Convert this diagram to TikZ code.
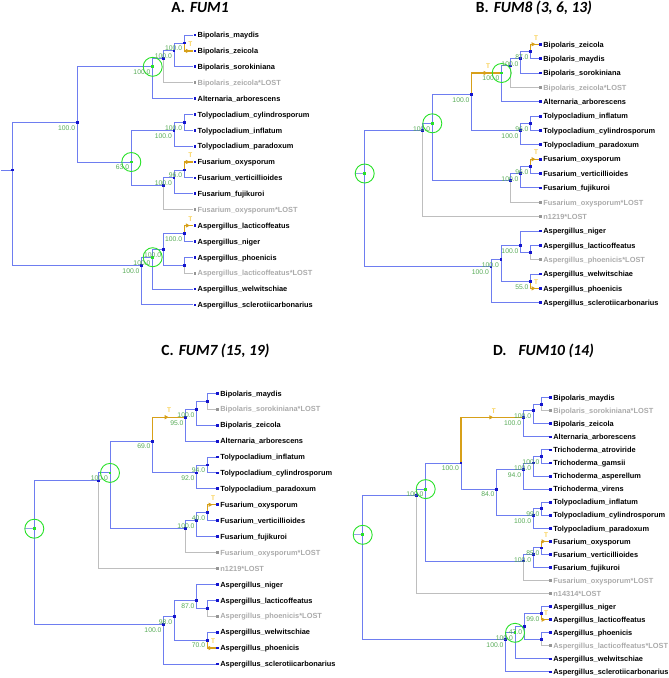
\documentclass[tikz,border=0pt]{standalone}
\usepackage{fontspec}
\setmainfont{Liberation Sans}
\newfontfamily\titlefont{Carlito}
\usepackage{xcolor}
\usepackage{tikz}
\usetikzlibrary{arrows.meta, decorations.markings, positioning, calc}

\definecolor{brblue}{RGB}{110,125,240}
\definecolor{stubblue}{RGB}{150,160,230}
\definecolor{lostgray}{RGB}{190,190,190}
\definecolor{dotk}{RGB}{20,20,205}
\definecolor{dotg}{RGB}{150,150,150}
\definecolor{txtk}{RGB}{0,0,0}
\definecolor{txtg}{RGB}{170,170,170}
\definecolor{trorange}{RGB}{215,160,25}
\definecolor{tyellow}{RGB}{245,185,0}
\definecolor{bsgreen}{RGB}{85,170,85}
\definecolor{gcirc}{RGB}{40,225,40}

\begin{document}
\begin{tikzpicture}[x=1pt, y=-1pt,
    br/.style={draw=brblue, line width=0.9pt},
    lostbr/.style={draw=lostgray, line width=0.9pt},
    stub/.style={draw=stubblue, line width=0.9pt},
    trans/.style={draw=trorange, line width=1.4pt, postaction={decorate},
      decoration={markings, mark=at position #1 with {\arrow{Triangle[length=4pt,width=4pt]}; \node[tlab] at (0.5pt,6.5pt) {T};}}},
    leaf/.style={fill=#1, inner sep=0pt, minimum size=2.8pt},
    leaftxt/.style={text=#1, font=\fontsize{7.4}{8}\selectfont\bfseries, anchor=base west, inner sep=0pt, xshift=2.5pt, yshift=-2.7pt},
    bs/.style={text=bsgreen, font=\fontsize{6.8}{8}\selectfont, anchor=east, inner sep=0pt, xshift=-2pt, yshift=-5.5pt},
    tlab/.style={text=tyellow, font=\fontsize{6.5}{7}\selectfont, inner sep=0pt},
    dup/.style={draw=gcirc, line width=0.9pt},
    ttl/.style={font=\titlefont\fontsize{15.5}{18}\selectfont\bfseries, inner sep=0pt}]
    \useasboundingbox (0,0) rectangle (669,678);

    % ===== A. FUM1 =====
    \node[ttl] (tA) at (200,7.5) {A.\hspace{5pt}\textit{FUM1}};
    \foreach \n/\y/\col/\lab in {
      1/35.0/k/Bipolaris\_maydis,
      2/50.9/k/Bipolaris\_zeicola,
      3/66.8/k/Bipolaris\_sorokiniana,
      4/82.6/g/Bipolaris\_zeicola*LOST,
      5/98.5/k/Alternaria\_arborescens,
      6/114.4/k/Tolypocladium\_cylindrosporum,
      7/130.3/k/Tolypocladium\_inflatum,
      8/146.1/k/Tolypocladium\_paradoxum,
      9/162.0/k/Fusarium\_oxysporum,
      10/177.9/k/Fusarium\_verticillioides,
      11/193.8/k/Fusarium\_fujikuroi,
      12/209.6/g/Fusarium\_oxysporum*LOST,
      13/225.5/k/Aspergillus\_lacticoffeatus,
      14/241.4/k/Aspergillus\_niger,
      15/257.3/k/Aspergillus\_phoenicis,
      16/273.2/g/Aspergillus\_lacticoffeatus*LOST,
      17/289.0/k/Aspergillus\_welwitschiae,
      18/304.9/k/Aspergillus\_sclerotiicarbonarius}{
      \node[leaf=dot\col] (A\n) at (195,\y) {};
      \node[leaftxt=txt\col] (tx-A\n) at (A\n) {\lab};
    }
    % internal nodes
    \coordinate (Aroot) at (12.3,170.0);
    \coordinate (Astub) at (1,170.0);
    \coordinate (Atop) at (77.3,122.3);
    \coordinate (Ab1) at (152.7,66.8);
    \coordinate (Ab2) at (163.3,58.8);
    \coordinate (Ab3) at (174.0,50.9);
    \coordinate (Ab4) at (184.3,43.0);
    \coordinate (A63) at (131.3,162.0);
    \coordinate (At1) at (174.0,130.3);
    \coordinate (At2) at (184.3,122.4);
    \coordinate (Af1) at (163.3,185.8);
    \coordinate (Af2) at (174.0,177.9);
    \coordinate (Af3) at (184.3,170.0);
    \coordinate (Aa0) at (141.7,265.2);
    \coordinate (Aa1) at (152.7,257.2);
    \coordinate (Aa2) at (163.3,249.4);
    \coordinate (Aa3) at (184.3,233.5);
    \coordinate (Aa4) at (184.3,265.3);
    % branches
    \draw[br] (Astub) -- (Aroot);
    \foreach \a/\b in {Aroot/Atop, Aroot/Aa0, Atop/Ab1, Atop/A63, Ab1/Ab2, Ab1/A5,
      Ab2/Ab3, Ab3/Ab4, Ab3/A3, Ab4/A1, A63/At1, A63/Af1, At1/At2, At1/A8,
      At2/A6, At2/A7, Af1/Af2, Af2/Af3, Af2/A11, Af3/A10, Aa0/Aa1, Aa0/A18,
      Aa1/Aa2, Aa1/A17, Aa2/Aa3, Aa2/Aa4, Aa3/A14, Aa4/A15}
      \draw[br] (\a) |- (\b);
    \foreach \a/\b in {Ab2/A4, Af1/A12, Aa4/A16}
      \draw[lostbr] (\a) |- (\b);
    \draw[trans=-3.5pt] (Ab4) |- (A2);
    \draw[trans=-3.5pt] (Af3) |- (A9);
    \draw[trans=-3.5pt] (Aa3) |- (A13);

    % ===== B. FUM8 =====
    \node[ttl] (tB) at (534,7.5) {B.\hspace{5pt}\textit{FUM8 (3, 6, 13)}};
    \foreach \n/\y/\col/\lab in {
      1/44.3/k/Bipolaris\_zeicola,
      2/58.7/k/Bipolaris\_maydis,
      3/73.0/k/Bipolaris\_sorokiniana,
      4/87.4/g/Bipolaris\_zeicola*LOST,
      5/101.7/k/Alternaria\_arborescens,
      6/116.1/k/Tolypocladium\_inflatum,
      7/130.5/k/Tolypocladium\_cylindrosporum,
      8/144.8/k/Tolypocladium\_paradoxum,
      9/159.2/k/Fusarium\_oxysporum,
      10/173.5/k/Fusarium\_verticillioides,
      11/187.9/k/Fusarium\_fujikuroi,
      12/202.3/g/Fusarium\_oxysporum*LOST,
      13/216.6/g/n1219*LOST,
      14/231.0/k/Aspergillus\_niger,
      15/245.3/k/Aspergillus\_lacticoffeatus,
      16/259.7/g/Aspergillus\_phoenicis*LOST,
      17/274.0/k/Aspergillus\_welwitschiae,
      18/288.4/k/Aspergillus\_phoenicis,
      19/302.8/k/Aspergillus\_sclerotiicarbonarius}{
      \node[leaf=dot\col] (B\n) at (540.7,\y) {};
      \node[leaftxt=txt\col] (tx-B\n) at (B\n) {\lab};
    }
    \coordinate (Broot) at (364.7,173.5);
    \coordinate (Bstub) at (355.2,173.5);
    \coordinate (Bb1) at (422.3,130.5);
    \coordinate (Bb2) at (432.3,123.3);
    \coordinate (Bb3) at (471.7,94.6);
    \coordinate (Bb4) at (501.7,73.0);
    \coordinate (Bb5) at (510.7,65.9);
    \coordinate (Bb6) at (520.7,58.7);
    \coordinate (Bb7) at (530.7,51.5);
    \coordinate (Bt1) at (520.7,130.5);
    \coordinate (Bt2) at (530.7,123.3);
    \coordinate (Bf1) at (510.7,180.7);
    \coordinate (Bf2) at (520.7,173.5);
    \coordinate (Bf3) at (530.7,166.4);
    \coordinate (Ba1) at (491.0,266.9);
    \coordinate (Ba2) at (501.0,259.7);
    \coordinate (Ba3) at (520.7,245.3);
    \coordinate (Ba4) at (530.7,281.2);
    \coordinate (Ba5) at (530.7,252.5);
    \draw[stub] (Bstub) -- (Broot);
    \foreach \a/\b in {Broot/Bb1, Broot/Ba1, Bb1/Bb2, Bb2/Bb3, Bb2/Bf1, Bb3/Bt1,
      Bb4/Bb5, Bb4/B5, Bb5/Bb6, Bb6/Bb7, Bb6/B3, Bb7/B2, Bt1/Bt2, Bt1/B8,
      Bt2/B6, Bt2/B7, Bf1/Bf2, Bf2/Bf3, Bf2/B11, Bf3/B10, Ba1/Ba2, Ba1/B19,
      Ba2/Ba3, Ba2/Ba4, Ba3/B14, Ba3/Ba5, Ba5/B15, Ba4/B17}
      \draw[br] (\a) |- (\b);
    \foreach \a/\b in {Bb1/B13, Bb5/B4, Bf1/B12, Ba5/B16}
      \draw[lostbr] (\a) |- (\b);
    \draw[trans=-14pt] (Bb3) |- (Bb4);
    \draw[trans=-3.5pt] (Bb7) |- (B1);
    \draw[trans=-3.5pt] (Bf3) |- (B9);
    \draw[trans=-3.5pt] (Ba4) |- (B18);

    % ===== C. FUM7 =====
    \node[ttl] (tC) at (215.5,351) {C.\hspace{5pt}\textit{FUM7 (15, 19)}};
    \foreach \n/\y/\col/\lab in {
      1/393.3/k/Bipolaris\_maydis,
      2/409.2/g/Bipolaris\_sorokiniana*LOST,
      3/425.1/k/Bipolaris\_zeicola,
      4/441.1/k/Alternaria\_arborescens,
      5/457.0/k/Tolypocladium\_inflatum,
      6/472.9/k/Tolypocladium\_cylindrosporum,
      7/488.8/k/Tolypocladium\_paradoxum,
      8/504.7/k/Fusarium\_oxysporum,
      9/520.7/k/Fusarium\_verticillioides,
      10/536.6/k/Fusarium\_fujikuroi,
      11/552.5/g/Fusarium\_oxysporum*LOST,
      12/568.4/g/n1219*LOST,
      13/584.3/k/Aspergillus\_niger,
      14/600.3/k/Aspergillus\_lacticoffeatus,
      15/616.2/g/Aspergillus\_phoenicis*LOST,
      16/632.1/k/Aspergillus\_welwitschiae,
      17/648.0/k/Aspergillus\_phoenicis,
      18/664.0/k/Aspergillus\_sclerotiicarbonarius}{
      \node[leaf=dot\col] (C\n) at (217.7,\y) {};
      \node[leaftxt=txt\col] (tx-C\n) at (C\n) {\lab};
    }
    \coordinate (Croot) at (34.3,528.7);
    \coordinate (Cstub) at (24.8,528.7);
    \coordinate (Cb1) at (98.7,480.9);
    \coordinate (Cb2) at (110.0,472.9);
    \coordinate (Cb3) at (152.7,441.1);
    \coordinate (Cb4) at (185.7,417.2);
    \coordinate (Cb5) at (196.7,409.2);
    \coordinate (Cb6) at (207.3,401.3);
    \coordinate (Ct1) at (196.7,472.9);
    \coordinate (Ct2) at (207.3,465.0);
    \coordinate (Cf1) at (185.7,528.6);
    \coordinate (Cf2) at (196.7,520.7);
    \coordinate (Cf3) at (207.3,512.7);
    \coordinate (Ca1) at (163.7,624.2);
    \coordinate (Ca2) at (174.3,616.2);
    \coordinate (Ca3) at (196.7,600.3);
    \coordinate (Ca4) at (207.3,640.1);
    \coordinate (Ca5) at (207.3,608.3);
    \draw[stub] (Cstub) -- (Croot);
    \foreach \a/\b in {Croot/Cb1, Croot/Ca1, Cb1/Cb2, Cb2/Cb3, Cb2/Cf1, Cb3/Ct1,
      Cb4/Cb5, Cb4/C4, Cb5/Cb6, Cb5/C3, Cb6/C1, Ct1/Ct2, Ct1/C7, Ct2/C5,
      Ct2/C6, Cf1/Cf2, Cf2/Cf3, Cf2/C10, Cf3/C9, Ca1/Ca2, Ca1/C18, Ca2/Ca3,
      Ca2/Ca4, Ca3/C13, Ca3/Ca5, Ca5/C14, Ca4/C16}
      \draw[br] (\a) |- (\b);
    \foreach \a/\b in {Cb1/C12, Cb6/C2, Cf1/C11, Ca5/C15}
      \draw[lostbr] (\a) |- (\b);
    \draw[trans=-17pt] (Cb3) |- (Cb4);
    \draw[trans=-3.5pt] (Cf3) |- (C8);
    \draw[trans=-3.5pt] (Ca4) |- (C17);

    % ===== D. FUM10 =====
    \node[ttl] (tD) at (543.5,351) {D.\hspace{12pt}\textit{FUM10 (14)}};
    \foreach \n/\y/\col/\lab in {
      1/397.7/k/Bipolaris\_maydis,
      2/410.8/g/Bipolaris\_sorokiniana*LOST,
      3/423.8/k/Bipolaris\_zeicola,
      4/436.9/k/Alternaria\_arborescens,
      5/449.9/k/Trichoderma\_atroviride,
      6/463.0/k/Trichoderma\_gamsii,
      7/476.1/k/Trichoderma\_asperellum,
      8/489.1/k/Trichoderma\_virens,
      9/502.2/k/Tolypocladium\_inflatum,
      10/515.2/k/Tolypocladium\_cylindrosporum,
      11/528.3/k/Tolypocladium\_paradoxum,
      12/541.4/k/Fusarium\_oxysporum,
      13/554.4/k/Fusarium\_verticillioides,
      14/567.5/k/Fusarium\_fujikuroi,
      15/580.5/g/Fusarium\_oxysporum*LOST,
      16/593.6/g/n14314*LOST,
      17/606.6/k/Aspergillus\_niger,
      18/619.7/k/Aspergillus\_lacticoffeatus,
      19/632.8/k/Aspergillus\_phoenicis,
      20/645.8/g/Aspergillus\_lacticoffeatus*LOST,
      21/658.9/k/Aspergillus\_welwitschiae,
      22/671.9/k/Aspergillus\_sclerotiicarbonarius}{
      \node[leaf=dot\col] (D\n) at (550.7,\y) {};
      \node[leaftxt=txt\col] (tx-D\n) at (D\n) {\lab};
    }
    \coordinate (Droot) at (362.7,534.8);
    \coordinate (Dstub) at (353.2,534.8);
    \coordinate (Db1) at (416.7,495.7);
    \coordinate (Db2) at (425.7,489.1);
    \coordinate (Db3) at (461.0,463.0);
    \coordinate (Db4) at (523.3,417.3);
    \coordinate (Db5) at (533.3,410.8);
    \coordinate (Db6) at (541.7,404.3);
    \coordinate (Dm) at (496.7,489.1);
    \coordinate (Dr1) at (523.3,469.5);
    \coordinate (Dr2) at (533.3,463.0);
    \coordinate (Dr3) at (541.7,456.5);
    \coordinate (Dt1) at (533.3,515.2);
    \coordinate (Dt2) at (541.7,508.7);
    \coordinate (Df1) at (523.3,561.0);
    \coordinate (Df2) at (533.3,554.4);
    \coordinate (Df3) at (541.7,547.9);
    \coordinate (Da1) at (505.7,639.3);
    \coordinate (Da2) at (515.0,632.8);
    \coordinate (Da3) at (524.3,626.2);
    \coordinate (Da4) at (541.7,613.2);
    \coordinate (Da5) at (541.7,639.3);
    \draw[stub] (Dstub) -- (Droot);
    \foreach \a/\b in {Droot/Db1, Droot/Da1, Db1/Db2, Db2/Db3, Db2/Df1, Db3/Dm,
      Db4/Db5, Db4/D4, Db5/Db6, Db5/D3, Db6/D1, Dm/Dr1, Dm/Dt1, Dr1/Dr2,
      Dr1/D8, Dr2/Dr3, Dr2/D7, Dr3/D5, Dr3/D6, Dt1/Dt2, Dt1/D11, Dt2/D9,
      Dt2/D10, Df1/Df2, Df2/Df3, Df2/D14, Df3/D13, Da1/Da2, Da1/D22, Da2/Da3,
      Da2/D21, Da3/Da4, Da3/Da5, Da4/D17, Da5/D19}
      \draw[br] (\a) |- (\b);
    \foreach \a/\b in {Db1/D16, Db6/D2, Df1/D15, Da5/D20}
      \draw[lostbr] (\a) |- (\b);
    \draw[trans=-30pt] (Db3) |- (Db4);
    \draw[trans=-3.5pt] (Df3) |- (D12);
    \draw[trans=-3.5pt] (Da4) |- (D18);

    % node markers
    \foreach \p in {Aroot,Atop,Ab2,Ab3,Ab4,At1,At2,Af1,Af2,Af3,Aa0,Aa2,Aa3,Aa4,
      Bb1,Bb3,Bb5,Bb6,Bb7,Bt1,Bt2,Bf1,Bf2,Bf3,Ba1,Ba2,Ba3,Ba4,Ba5,
      Cb1,Cb3,Cb4,Cb5,Cb6,Ct1,Ct2,Cf1,Cf2,Cf3,Ca1,Ca2,Ca3,Ca4,Ca5,
      Db1,Db3,Db4,Db5,Db6,Dm,Dr1,Dr2,Dr3,Dt1,Dt2,Df1,Df2,Df3,Da1,Da3,Da4,Da5}
      \fill[dotk] (\p) ++(-1.4,-1.4) rectangle ++(2.8,2.8);
    % duplication circles
    \foreach \p in {Ab1,A63,Aa1,Broot,Bb2,Bb4,Croot,Cb2,Droot,Db2,Da2} {
      \draw[dup] (\p) circle[radius=9.5pt];
      \fill[gcirc] (\p) ++(-1.4,-1.4) rectangle ++(2.8,2.8);
    }

    % support values
    \foreach \p/\v in {Ab4/100.0, Ab3/100.0, Ab1/100.0, At2/100.0, At1/100.0,
      Af3/96.0, Af2/100.0, A63/63.0, Atop/100.0, Aa3/100.0, Aa2/100.0,
      Aa1/100.0, Aa0/100.0,
      Bb7/87.0, Bb6/100.0, Bb4/100.0, Bb3/100.0, Bt2/96.0, Bt1/100.0,
      Bf3/96.0, Bf2/100.0, Bb2/100.0, Ba3/100.0, Ba4/55.0, Ba2/100.0,
      Ba1/100.0,
      Cb5/100.0, Cb4/95.0, Ct2/94.0, Ct1/92.0, Cb3/69.0, Cf3/40.0,
      Cf2/100.0, Cb2/100.0, Ca3/87.0, Ca4/70.0, Ca2/98.0, Ca1/100.0,
      Db5/100.0, Db4/100.0, Dr3/100.0, Dr2/100.0, Dr1/94.0, Dt2/99.0,
      Dt1/100.0, Dm/84.0, Db3/100.0, Df3/85.0, Df2/100.0, Db2/100.0,
      Da4/99.0, Da3/47.0, Da2/100.0, Da1/100.0}
      \node[bs] (bs-\p) at (\p) {\v};
\end{tikzpicture}
\end{document}
